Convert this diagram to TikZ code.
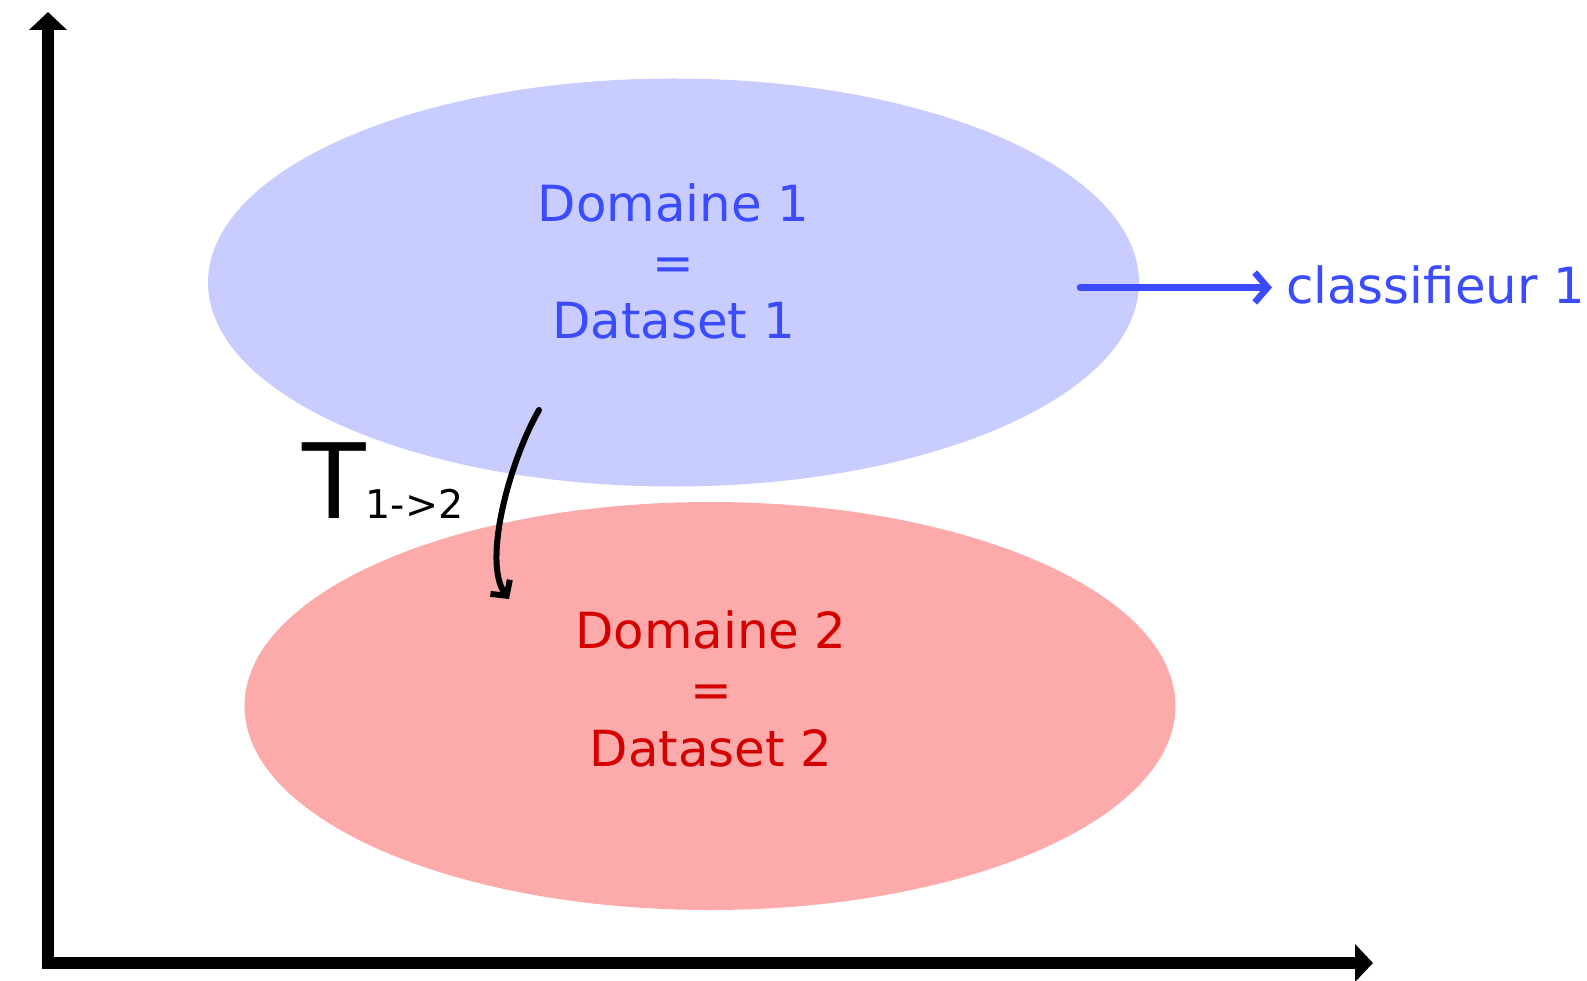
\documentclass[tikz,border=0pt]{standalone}
\usepackage{fontspec}
\setmainfont{DejaVu Sans}
\usetikzlibrary{calc}
\usetikzlibrary{positioning}
\usetikzlibrary{arrows.meta}
\usetikzlibrary{shapes.geometric}
\definecolor{domOneFill}{HTML}{C8CCFF}
\definecolor{domOneText}{HTML}{3B4BFF}
\definecolor{domTwoFill}{HTML}{FCAAAA}
\definecolor{domTwoText}{HTML}{D40000}
\tikzset{
  domainNode/.style={%
    ellipse, minimum width=931pt, minimum height=408pt, inner sep=0pt,
  },
  domainLabel/.style={%
    align=center, font=\fontsize{49.8}{58.8}\selectfont, inner sep=0pt,
  },
  axisLine/.style={%
    line width=12pt, -{Triangle[length=18pt,width=37pt]},
  }
}

\begin{document}
\begin{tikzpicture}[x=1pt,y=-1pt]
          \useasboundingbox (0,0) rectangle (1587,981);

          \node[domainNode,fill=domOneFill] (dom1) at (673.5,282.5) {} ;
          \node[domainNode,fill=domTwoFill] (dom2) at (710,706) {} ;

          \node[domainLabel,text=domOneText] (lab1) at (673.5,261.5) {Domaine 1\\=\\Dataset 1} ;
          \node[domainLabel,text=domTwoText] (lab2) at (711,689) {Domaine 2\\=\\Dataset 2} ;

          \node[anchor=base west,inner sep=0pt,text=domOneText,font=\fontsize{49.8}{58}\selectfont] (clf1) at (1286,304) {classifieur 1} ;
          \node[anchor=base west,inner sep=0pt,font=\fontsize{104}{104}\selectfont] (trans) at (302,518.5) {T{\fontsize{39.5}{39.5}\selectfont 1->2}} ;

          \coordinate (origin) at (48,963) ;
          \coordinate (yTip) at (48,12) ;
          \coordinate (xTip) at (1373,963) ;
          \coordinate (clfStart) at (1080,287.5) ;
          \coordinate (clfEnd) at (1272,287.5) ;
          \coordinate (tStart) at (539,410) ;
          \coordinate (tEnd) at (509,599) ;

          \draw[axisLine] ($(origin)+(0,6)$) -- (yTip) ;
          \draw[axisLine] ($(origin)+(-6,0)$) -- (xTip) ;

          \draw[line width=6.5pt,domOneText,line cap=round,-{Straight Barb[length=13pt,width=30pt]}] (clfStart) -- (clfEnd) ;
          \draw[line width=6pt,line cap=round,-{Straight Barb[length=11pt,width=24pt]}]
            (tStart) .. controls (510,460) and (482,562) .. (tEnd) ;

        \end{tikzpicture}
\end{document}
